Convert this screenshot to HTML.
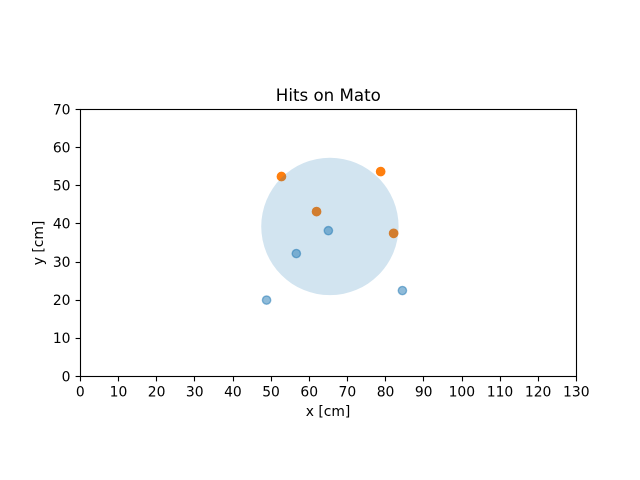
<!DOCTYPE html>
<html lang="en">
<head>
<meta charset="utf-8">
<title>Hits on Mato</title>
<style>
html,body{margin:0;padding:0;background:#fff;}
svg{display:block;}
text{font-family:"DejaVu Sans",sans-serif;fill:#000;}
</style>
</head>
<body>
<svg id="chart" xmlns="http://www.w3.org/2000/svg" width="640" height="480" viewBox="0 0 640 480">
<rect x="0" y="0" width="640" height="480" fill="#ffffff"/>
<text x="328.3" y="101" font-size="16.67" text-anchor="middle">Hits on Mato</text>
<text x="328" y="416" font-size="13.89" text-anchor="middle">x [cm]</text>
<text transform="translate(43,243) rotate(-90)" font-size="13.89" text-anchor="middle">y [cm]</text>
<g id="marks"></g>
<g id="axes"></g>
</svg>
<script>
var xTicks = [0,10,20,30,40,50,60,70,80,90,100,110,120,130];
var yTicks = [0,10,20,30,40,50,60,70];
var blueX = [48.9,56.7,65.1,84.5];
var blueY = [19.9,32.1,38.1,22.4];
var orangeX = [52.8,78.8,62.0,82.2];
var orangeY = [52.3,53.6,43.1,37.4];
var circleCenterX = [65.5];
var circleCenterY = [39.2];
var circleRadius = [18];

var NS = 'http://www.w3.org/2000/svg';
var left = 80, right = 576, top_ = 109, bottom = 376;
function sx(v){ return left + (v - 0) / 130 * (right - left); }
function sy(v){ return bottom - (v - 0) / 70 * (bottom - top_); }
function make(tag, parent){
  var el = document.createElementNS(NS, tag);
  parent.appendChild(el);
  return el;
}
var marks = document.getElementById('marks');
var axes = document.getElementById('axes');

blueX.forEach(function(v, i){
  var c = make('circle', marks);
  
  
  c.setAttribute('cx', sx(v));
  c.setAttribute('cy', sy(blueY[i]));
  c.setAttribute('r', 4.17);
  c.setAttribute('fill', '#1f77b4');
  c.setAttribute('fill-opacity', 0.5);
  c.setAttribute('stroke', '#1f77b4');
  c.setAttribute('stroke-opacity', 0.5);
  c.setAttribute('stroke-width', 1.39);
});
orangeX.forEach(function(v, i){
  var c = make('circle', marks);
  
  
  c.setAttribute('cx', sx(v));
  c.setAttribute('cy', sy(orangeY[i]));
  c.setAttribute('r', 4.17);
  c.setAttribute('fill', '#ff7f0e');
  c.setAttribute('stroke', '#ff7f0e');
  c.setAttribute('stroke-width', 1.39);
});
circleCenterX.forEach(function(v, i){
  var c = make('circle', marks);
  
  
  c.setAttribute('cx', sx(v));
  c.setAttribute('cy', sy(circleCenterY[i]));
  c.setAttribute('r', sx(circleRadius[i]) - sx(0));
  c.setAttribute('fill', '#1f77b4');
  c.setAttribute('fill-opacity', 0.2);
});

var frame = make('rect', axes);


frame.setAttribute('x', left + 0.5);
frame.setAttribute('y', top_ + 0.5);
frame.setAttribute('width', right - left);
frame.setAttribute('height', bottom - top_);
frame.setAttribute('fill', 'none');
frame.setAttribute('stroke', '#000');
frame.setAttribute('stroke-width', 1.11);

xTicks.forEach(function(v){
  var px = Math.round(sx(v)) + 0.5;
  var t = make('line', axes);
  
  
  t.setAttribute('x1', px);
  t.setAttribute('x2', px);
  t.setAttribute('y1', bottom + 0.5);
  t.setAttribute('y2', bottom + 5.4);
  t.setAttribute('stroke', '#000');
  t.setAttribute('stroke-width', 1.11);
  var l = make('text', axes);
  
  
  l.setAttribute('x', sx(v) + 0.3);
  l.setAttribute('y', 396.5);
  l.setAttribute('font-size', 13.89);
  l.setAttribute('text-anchor', 'middle');
  l.textContent = String(v);
});
yTicks.forEach(function(v){
  var py = Math.round(sy(v)) + 0.5;
  var t = make('line', axes);
  
  
  t.setAttribute('x1', left + 0.5);
  t.setAttribute('x2', left - 4.4);
  t.setAttribute('y1', py);
  t.setAttribute('y2', py);
  t.setAttribute('stroke', '#000');
  t.setAttribute('stroke-width', 1.11);
  var l = make('text', axes);
  
  
  l.setAttribute('x', 70.5);
  l.setAttribute('y', sy(v) + 5.3);
  l.setAttribute('font-size', 13.89);
  l.setAttribute('text-anchor', 'end');
  l.textContent = String(v);
});
</script>
</body>
</html>
